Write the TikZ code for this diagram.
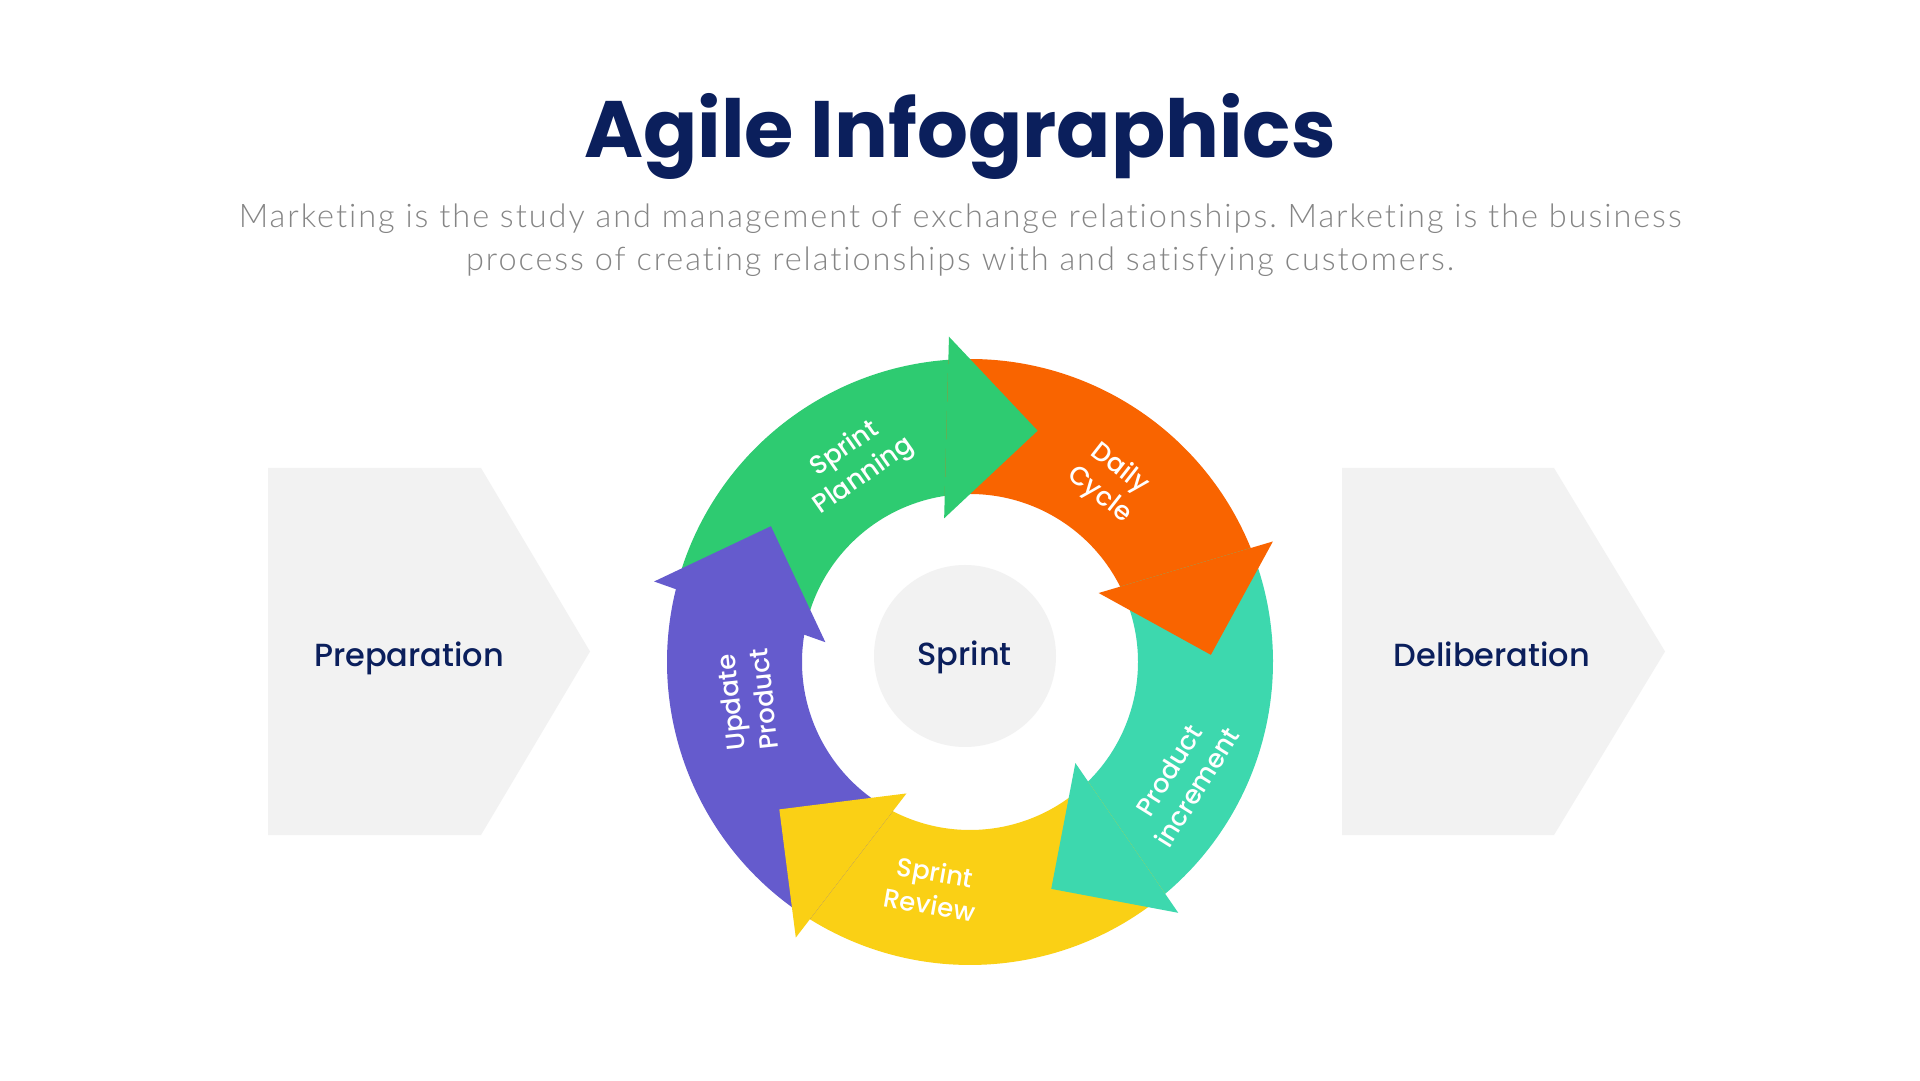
\documentclass[tikz,border=0pt]{standalone}
\usepackage{fontspec}
\setmainfont{Poppins}
\newfontfamily\popmed{Poppins Medium}
\newfontfamily\popsemi{Poppins SemiBold}
\newfontfamily\latolight{Lato Light}[LetterSpace=6, Ligatures={NoCommon}]
\usetikzlibrary{calc}
\frenchspacing
\definecolor{navy}{HTML}{0B1F5C}
\definecolor{subgray}{HTML}{858585}
\definecolor{panel}{HTML}{F2F2F2}
\definecolor{cgreen}{HTML}{2ECB71}
\definecolor{corange}{HTML}{F96400}
\definecolor{cteal}{HTML}{3DD8AE}
\definecolor{cyellow}{HTML}{FAD015}
\definecolor{cpurple}{HTML}{655BCD}
\tikzset{
  lbl/.style={text=white, font=\popmed\fontsize{26}{33}\selectfont, align=center, inner sep=0pt},
  sidelbl/.style={text=navy, font=\popmed\fontsize{32}{38}\selectfont, inner sep=0pt, anchor=base},
  sublbl/.style={anchor=base, text=subgray, font=\latolight\fontsize{32.5}{40}\selectfont\frenchspacing, inner sep=0pt},
  sidepanel/.style={fill=panel, draw=none}
}
\begin{document}
\begin{tikzpicture}[x=1pt,y=1pt]
\useasboundingbox (0,0) rectangle (1920,1080);
\fill[white] (0,0) rectangle (1920,1080);
% title
\node[anchor=base, text=navy, font=\bfseries\fontsize{80}{90}\selectfont, inner sep=0pt] (title) at (960,922) {Agile Infographics};
\node[sublbl] (sub1) at (960,852.7) {Marketing is the study and management of exchange relationships. Marketing is the business};
\node[sublbl] (sub2) at (960,809.3) {process of creating relationships with and satisfying customers.};
% side panels
\fill[sidepanel] (268,612) -- (481,612) -- (590,428.5) -- (481,245) -- (268,245) -- cycle;
\fill[sidepanel] (1342,612) -- (1554,612) -- (1665,428.5) -- (1554,245) -- (1342,245) -- cycle;
\node[sidelbl] (prep) at (409,413.3) {Preparation};
\node[sidelbl] (delib) at (1492,413.3) {Deliberation};
% centre circle
\fill[panel] (965,424) circle[radius=91];
\node[sidelbl] (sprint) at (964.5,414) {Sprint};
% ring bodies
\coordinate (C) at (970,418);
\foreach \k/\col in {0/cgreen,1/corange,2/cteal,3/cyellow,4/cpurple} {
  \pgfmathsetmacro\th{93.7-72*\k}
  \pgfmathsetmacro\tpo{\th+72.4}
  \pgfmathsetmacro\tpi{\th+76.95}
  \fill[\col] ($(C)+(\tpo:303)$) arc[start angle=\tpo, end angle=\th, radius=303]
     -- ($(C)+(\th:168)$) arc[start angle=\th, end angle=\tpi, radius=168] -- cycle;
}
% heads
\foreach \k/\col in {0/cgreen,1/corange,2/cteal,3/cyellow,4/cpurple} {
  \pgfmathsetmacro\th{93.7-72*\k}
  \pgfmathsetmacro\tt{\th-20}
  \pgfmathsetmacro\ti{\th+6.5}
  \fill[\col] ($(C)+(\th:326)$) -- ($(C)+(\tt:241)$) -- ($(C)+(\ti:146)$) -- cycle;
}
% labels
\node[lbl, rotate=35] (lplan) at (854.6,617) {Sprint\\Planning};
\node[lbl, rotate=-38] (ldaily) at (1109.3,598) {Daily\\Cycle};
\node[lbl, rotate=58] (lincr) at (1183,301.2) {Product\\increment};
\node[lbl, rotate=-10] (lrev) at (932.5,191.8) {Sprint\\Review};
\node[lbl, rotate=96] (lupd) at (747.3,379.1) {Update\\Product};
\end{tikzpicture}
\end{document}
